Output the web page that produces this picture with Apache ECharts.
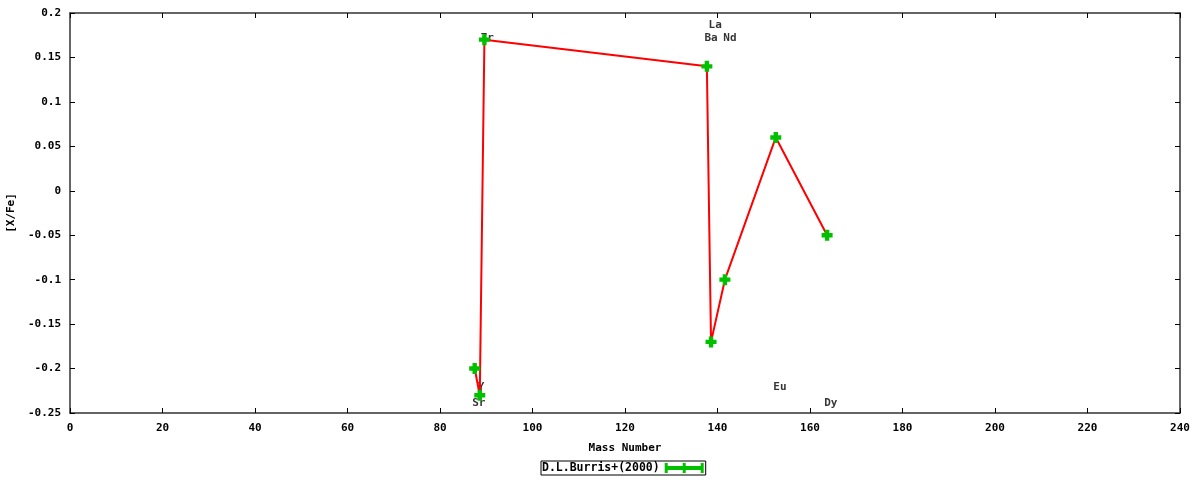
<!DOCTYPE html>
<html>
<head>
<meta charset="utf-8">
<script src="https://cdn.jsdelivr.net/npm/echarts@6/dist/echarts.min.js"></script>
<style>
  html, body { margin: 0; padding: 0; background: #fff; }
  #chart { width: 1200px; height: 480px; }
</style>
</head>
<body>
<div id="chart"></div>
<script>
// ---- data ----
const massNumber = [87.5, 88.6, 89.6, 137.7, 138.6, 141.6, 152.6, 163.7];
const xFe = [-0.2, -0.23, 0.17, 0.14, -0.17, -0.1, 0.06, -0.05];

const elementNames = ['La', 'Ba', 'Nd', 'Zr', 'Y', 'Sr', 'Eu', 'Dy'];
const elementX = [139.5, 138.6, 142.7, 90.2, 88.9, 88.4, 153.5, 164.5];
const elementY = [0.1865, 0.172, 0.172, 0.172, -0.221, -0.239, -0.221, -0.239];

const seriesName = 'D.L.Burris+(2000)';

const FONT = '"DejaVu Sans Mono", monospace';
const txt = { fontFamily: FONT, fontSize: 11, fontWeight: 'bold', color: '#000' };

const chart = echarts.init(document.getElementById('chart'));

const axisLine = { show: true, onZero: false, lineStyle: { color: '#333', width: 1.5 } };
const axisTick = { show: true, inside: true, length: 5, lineStyle: { color: '#000' } };

chart.setOption({
  animation: false,
  backgroundColor: '#fff',
  grid: { left: 70, right: 20, top: 13, bottom: 67, containLabel: false, outerBoundsMode: 'none' },
  legend: {
    data: [seriesName],
    top: 461,
    left: 541,
    align: 'right',
    icon: 'path://M0,0H3V3H18V0H21V3H36V0H39V10H36V7H21V10H18V7H3V10H0Z',
    itemWidth: 39,
    itemHeight: 10,
    itemGap: 4,
    padding: [1, 2, 1, 1],
    borderColor: '#000',
    borderWidth: 1,
    borderRadius: 0,
    textStyle: { ...txt, fontSize: 11.5, padding: [0, 0, 0, 0] },
  },
  xAxis: [{
    type: 'value',
    min: 0, max: 240, interval: 20,
    name: 'Mass Number',
    nameLocation: 'middle',
    nameGap: 30,
    nameTextStyle: txt,
    axisLine, axisTick,
    axisLabel: { ...txt, margin: 10 },
    splitLine: { show: false },
  }, {
    type: 'value', position: 'top',
    min: 0, max: 240, interval: 20,
    axisLine, axisTick,
    axisLabel: { show: false },
    splitLine: { show: false },
  }],
  yAxis: [{
    type: 'value',
    min: -0.25, max: 0.2, interval: 0.05,
    name: '[X/Fe]',
    nameLocation: 'middle',
    nameGap: 50,
    nameTextStyle: txt,
    axisLine, axisTick,
    axisLabel: { ...txt, margin: 9, formatter: v => String(Math.round(v * 100) / 100) },
    splitLine: { show: false },
  }, {
    type: 'value', position: 'right',
    min: -0.25, max: 0.2, interval: 0.05,
    axisLine, axisTick,
    axisLabel: { show: false },
    splitLine: { show: false },
  }],
  series: [{
    type: 'scatter',
    name: 'labels',
    z: 1,
    symbolSize: 1,
    itemStyle: { color: 'transparent' },
    label: { show: true, position: 'inside', formatter: p => p.name, ...txt },
    data: elementNames.map((n, i) => ({ name: n, value: [elementX[i], elementY[i]] })),
  }, {
    type: 'line',
    name: seriesName,
    z: 3,
    data: massNumber.map((m, i) => [m, xFe[i]]),
    lineStyle: { color: '#ff0000', width: 2 },
    itemStyle: { color: '#00c000' },
    symbol: 'path://M3,0H7V3H10V7H7V10H3V7H0V3H3Z',
    symbolSize: 11,
    showAllSymbol: true,
  }],
});
</script>
</body>
</html>
